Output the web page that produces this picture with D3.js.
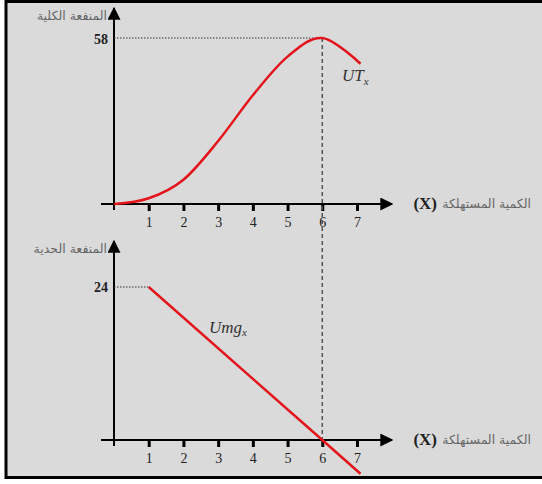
<!DOCTYPE html>
<html><head><meta charset="utf-8">
<script src="https://cdn.jsdelivr.net/npm/d3@7/dist/d3.min.js"></script>
<style>html,body{margin:0;padding:0;background:#fff;}</style>
</head><body>
<svg id="c" width="542" height="484"></svg>
<script>
const quantities = [0, 1, 2, 3, 4, 5, 6, 7.1];
const totalUtility = [0, 2, 8.5, 22, 38, 51.5, 58, 49];
const mQuantities = [1, 6, 7.1];
const marginalUtility = [24, 0, -5.3];
const tickLabels = [1, 2, 3, 4, 5, 6, 7];
const maxTU = 58, maxMU = 24, peakQ = 6;
const yLabelTop = "المنفعة الكلية";
const yLabelBottom = "المنفعة الحدية";
const xLabel = "الكمية المستهلكة";
const xSymbol = "(X)";

const svg = d3.select("#c");
svg.append("rect").attr("x",6).attr("y",1).attr("width",536).attr("height",477).attr("fill","#dadada");
svg.append("line").attr("x1",5).attr("x2",542).attr("y1",1.5).attr("y2",1.5).attr("stroke","#000").attr("stroke-width",3);
svg.append("line").attr("x1",6).attr("x2",6).attr("y1",0).attr("y2",479).attr("stroke","#000").attr("stroke-width",3);
svg.append("line").attr("x1",5).attr("x2",542).attr("y1",477.5).attr("y2",477.5).attr("stroke","#000").attr("stroke-width",3);

const defs = svg.append("defs");
defs.append("marker").attr("id","arr").attr("viewBox","0 0 10 10").attr("refX",9).attr("refY",5)
  .attr("markerWidth",6.5).attr("markerHeight",6.5).attr("markerUnits","strokeWidth").attr("orient","auto")
  .append("path").attr("d","M0,0 L10,5 L0,10 z").attr("fill","#000");

const x = d3.scaleLinear().domain([0,7]).range([114,357]);
const yTop = d3.scaleLinear().domain([0,maxTU]).range([204,38]);
const yBot = d3.scaleLinear().domain([0,maxMU]).range([440,287]);

function panel(y, arrowTop, ylab, labY, valLabel, valY) {
  const g = svg.append("g");
  const ax = d3.axisBottom(x).tickValues(tickLabels).tickSize(7).tickPadding(6).tickFormat(d3.format("d"));
  const ag = g.append("g").attr("transform",`translate(0,${y(0)})`).call(ax);
  ag.select(".domain").remove();
  ag.selectAll(".tick line").attr("stroke","#000").attr("stroke-width",3);
  ag.selectAll(".tick text").attr("font-family","Liberation Serif").attr("font-size",14).attr("fill","#222");
  g.append("line").attr("x1",x(0)).attr("x2",x(0)).attr("y1",y(0)).attr("y2",y(0)+6).attr("stroke","#000").attr("stroke-width",2);
  g.append("line").attr("x1",101).attr("x2",392).attr("y1",y(0)).attr("y2",y(0))
    .attr("stroke","#000").attr("stroke-width",2).attr("marker-end","url(#arr)");
  g.append("line").attr("x1",x(0)).attr("x2",x(0)).attr("y1",y(0)+1).attr("y2",arrowTop)
    .attr("stroke","#000").attr("stroke-width",2).attr("marker-end","url(#arr)");
  g.append("text").attr("x",107).attr("y",labY).attr("text-anchor","end")
    .attr("font-family","DejaVu Sans").attr("font-size",12.5).attr("fill","#666").text(ylab);
  g.append("text").attr("x",108).attr("y",valY).attr("text-anchor","end")
    .attr("font-family","Liberation Serif").attr("font-weight","bold").attr("font-size",14).attr("fill","#222").text(valLabel);
  g.append("text").attr("x",437).attr("y",y(0)+5).attr("text-anchor","end")
    .attr("font-family","Liberation Serif").attr("font-weight","bold").attr("font-size",17).attr("fill","#222").text(xSymbol);
  g.append("text").attr("x",531).attr("y",y(0)+4).attr("text-anchor","end")
    .attr("font-family","DejaVu Sans").attr("font-size",12.5).attr("fill","#666").text(xLabel);
}
panel(yTop, 8, yLabelTop, 20, String(maxTU), 44);
panel(yBot, 241, yLabelBottom, 253, String(maxMU), 292);

svg.append("line").attr("x1",x(0)).attr("x2",x(peakQ)).attr("y1",yTop(maxTU)).attr("y2",yTop(maxTU))
  .attr("stroke","#333").attr("stroke-width",1).attr("stroke-dasharray","1.5,1.5");
svg.append("line").attr("x1",x(0)).attr("x2",x(mQuantities[0])).attr("y1",yBot(maxMU)).attr("y2",yBot(maxMU))
  .attr("stroke","#333").attr("stroke-width",1).attr("stroke-dasharray","1.5,1.5");
svg.append("line").attr("x1",x(peakQ)).attr("x2",x(peakQ)).attr("y1",yTop(maxTU)).attr("y2",yBot(0))
  .attr("stroke","#555").attr("stroke-width",1.5).attr("stroke-dasharray","4,3");

const tuLine = d3.line().x((d,i)=>x(quantities[i])).y(d=>yTop(d)).curve(d3.curveCardinal.tension(0));
svg.append("path").attr("d",tuLine(totalUtility)).attr("fill","none").attr("stroke","#e3141b").attr("stroke-width",2.5);
const muLine = d3.line().x((d,i)=>x(mQuantities[i])).y(d=>yBot(d));
svg.append("path").attr("d",muLine(marginalUtility)).attr("fill","none").attr("stroke","#e3141b").attr("stroke-width",2.5);

const t1 = svg.append("text").attr("x",342).attr("y",81).attr("font-family","Liberation Serif")
  .attr("font-style","italic").attr("font-size",17).attr("fill","#333");
t1.append("tspan").text("UT");
t1.append("tspan").attr("font-size",11).attr("dy",4).text("x");
const t2 = svg.append("text").attr("x",209).attr("y",333).attr("font-family","Liberation Serif")
  .attr("font-style","italic").attr("font-size",17).attr("fill","#333");
t2.append("tspan").text("Umg");
t2.append("tspan").attr("font-size",11).attr("dy",3).text("x");
</script>
</body></html>
